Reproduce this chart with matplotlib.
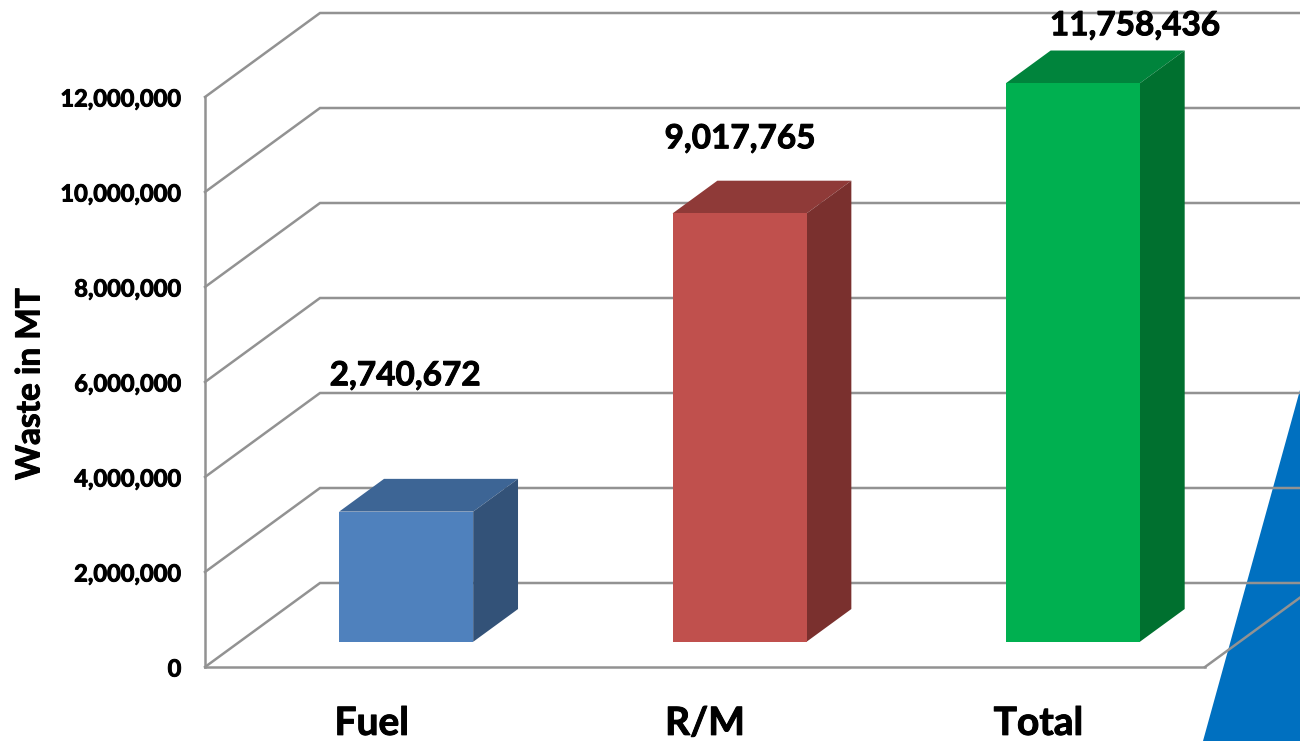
import matplotlib
matplotlib.use('Agg')
from matplotlib import pyplot as plt
from matplotlib import patheffects as pe
from matplotlib.patches import Polygon
from matplotlib.ticker import FuncFormatter

categories = ['Fuel', 'R/M', 'Total']
waste = [2740672, 9017765, 11758436]
y_ticks = [0, 2000000, 4000000, 6000000, 8000000, 10000000, 12000000]

# where the value labels sit, they are not right on top of the bars
label_x = [0.6, 1.605, 2.79]
label_y = [6130000, 11120000, 13500000]

front_colors = ['#4f81bd', '#c0504d', '#00b050']
top_colors = ['#3d6595', '#8f3a38', '#00843c']
side_colors = ['#335278', '#7a302e', '#00702f']

GREY = '#929292'
# one full depth of the 3d box in data units
DEPTH_X = 115 / (1000 / 3)
DEPTH_Y = 84 / 95 * 2000000
BAR_W = 0.402
BAR_D0 = 0.30
BAR_D1 = 0.69

plt.rcParams['font.family'] = ['Lato', 'DejaVu Sans']
plt.rcParams['font.weight'] = 'bold'

# lato bold is a bit thin next to the original, thicken it slightly
THICK = [pe.withStroke(linewidth=0.7, foreground='black')]

fig = plt.figure(figsize=(13, 7.41), dpi=100)
ax = fig.add_axes([205 / 1300, 1 - 667 / 741, 1000 / 1300, 570 / 741])
ax.patch.set_alpha(0)
ax.set_xlim(0, 3)
ax.set_ylim(0, 12000000)


def sh(x, y, d):
    return (x + d * DEPTH_X, y + d * DEPTH_Y)


# blue shape cut off at the right edge, sits under the gridlines
ax.add_patch(Polygon([(1, 1 - 390 / 741), (1, 0), (1203 / 1300, 0)],
                     transform=fig.transFigure, facecolor='#0070c0',
                     edgecolor='none', zorder=0.5, clip_on=False))

# gridlines: diagonal on the side wall then flat along the back
for v in y_ticks:
    bx, by = sh(0, v, 1)
    ax.plot([0, bx, 3.4], [v, by, by], color=GREY, lw=1.8, zorder=1,
            clip_on=False, solid_joinstyle='miter')
# floor edge on the right
rx, ry = sh(3, 0, 1)
ax.plot([3, rx], [0, ry], color=GREY, lw=1.8, zorder=1, clip_on=False)

for i, v in enumerate(waste):
    x0 = i + 0.5 - BAR_W / 2
    x1 = i + 0.5 + BAR_W / 2
    a = sh(x0, 0, BAR_D0)
    b = sh(x1, 0, BAR_D0)
    c = sh(x1, v, BAR_D0)
    d = sh(x0, v, BAR_D0)
    b2 = sh(x1, 0, BAR_D1)
    c2 = sh(x1, v, BAR_D1)
    d2 = sh(x0, v, BAR_D1)
    ax.add_patch(Polygon([d, c, c2, d2], facecolor=top_colors[i], edgecolor='none',
                         zorder=3, clip_on=False))
    ax.add_patch(Polygon([b, b2, c2, c], facecolor=side_colors[i], edgecolor='none',
                         zorder=3, clip_on=False))
    ax.add_patch(Polygon([a, b, c, d], facecolor=front_colors[i], edgecolor='none',
                         zorder=3, clip_on=False))
    ax.text(label_x[i], label_y[i], format(v, ','), ha='center', va='center',
            fontsize=24, fontweight='bold', color='black', zorder=5, clip_on=False,
            path_effects=THICK)

for s in ['top', 'right']:
    ax.spines[s].set_visible(False)
for s in ['left', 'bottom']:
    ax.spines[s].set_color(GREY)
    ax.spines[s].set_linewidth(1.8)

ax.set_yticks(y_ticks)
ax.yaxis.set_major_formatter(FuncFormatter(lambda v, p: format(int(v), ',')))
ax.set_xticks([0.5, 1.5, 2.5])
ax.set_xticklabels(categories)
ax.tick_params(axis='y', length=0, pad=17, labelsize=17)
ax.tick_params(axis='x', length=0, pad=28, labelsize=28)
for t in ax.get_yticklabels() + ax.get_xticklabels():
    t.set_fontweight('bold')
    t.set_path_effects(THICK)

fig.text(30 / 1300, 1 - 384 / 741, 'Waste in MT', rotation=90, ha='center', va='center',
         fontsize=24, fontweight='bold', path_effects=THICK)

plt.savefig('out.png', dpi=100)
